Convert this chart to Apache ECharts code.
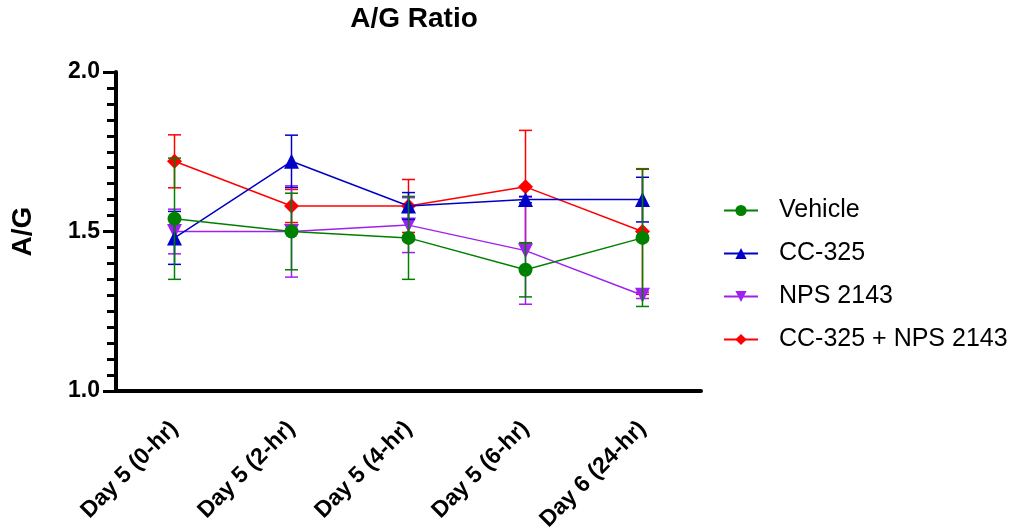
<!DOCTYPE html>
<html>
<head>
<meta charset="utf-8">
<script src="https://cdn.jsdelivr.net/npm/echarts@6/dist/echarts.min.js"></script>
<style>
  html, body { margin: 0; padding: 0; background: #fff; }
  #chart { width: 1020px; height: 531px; }
</style>
</head>
<body>
<div id="chart"></div>
<script>
let $ = a => document.querySelector(a)

// categories and values
const categories = ['Day 5 (0-hr)', 'Day 5 (2-hr)', 'Day 5 (4-hr)', 'Day 5 (6-hr)', 'Day 6 (24-hr)']
const yTicks = [1.0, 1.5, 2.0]

const vehicle = [1.54, 1.50, 1.48, 1.38, 1.48]
const vehicleErr = [0.19, 0.12, 0.13, 0.085, 0.215]
const cc325 = [1.48, 1.72, 1.58, 1.60, 1.60]
const cc325Err = [0.083, 0.082, 0.042, 0.01, 0.07]
const nps = [1.50, 1.50, 1.52, 1.44, 1.30]
const npsErr = [0.07, 0.143, 0.086, 0.168, 0.01]
const combo = [1.72, 1.58, 1.58, 1.64, 1.50]
const comboErr = [0.083, 0.052, 0.083, 0.177, 0.197]

const font = "'Liberation Sans', Arial, sans-serif"

// 每组: 名称, 数值, 误差, 颜色, 标记
const groups = [
    { name: 'CC-325 + NPS 2143', values: combo, err: comboErr, color: '#ff0000', symbol: 'diamond', size: 15 },
    { name: 'NPS 2143', values: nps, err: npsErr, color: '#a020f0', symbol: 'path://M0,0 L10,0 L5,9 Z', size: 15 },
    { name: 'CC-325', values: cc325, err: cc325Err, color: '#0000c8', symbol: 'triangle', size: 15 },
    { name: 'Vehicle', values: vehicle, err: vehicleErr, color: '#008000', symbol: 'circle', size: 14 }
]

// 误差线 (竖线 + 两端横帽)
function errorBars(color) {
    return function (params, api) {
        let i = api.value(0)
        let lo = api.coord([i, api.value(1)])
        let hi = api.coord([i, api.value(2)])
        let w = 6.5
        let style = { stroke: color, lineWidth: 1.5 }
        return {
            type: 'group',
            children: [
                { type: 'line', shape: { x1: lo[0], y1: lo[1], x2: hi[0], y2: hi[1] }, style: style },
                { type: 'line', shape: { x1: lo[0] - w, y1: lo[1], x2: lo[0] + w, y2: lo[1] }, style: style },
                { type: 'line', shape: { x1: hi[0] - w, y1: hi[1], x2: hi[0] + w, y2: hi[1] }, style: style }
            ]
        }
    }
}

let series = []
groups.forEach((g, k) => {
    series.push({
        name: g.name + ' SEM',
        type: 'custom',
        renderItem: errorBars(g.color),
        data: g.values.map((v, i) => [i, v - g.err[i], v + g.err[i]]),
        z: 2 + k * 2,
        silent: true
    })
    series.push({
        name: g.name,
        type: 'line',
        data: g.values,
        symbol: g.symbol,
        symbolSize: g.size,
        itemStyle: { color: g.color },
        lineStyle: { color: g.color, width: 1.5 },
        z: 3 + k * 2
    })
})

echarts.init($('#chart')).setOption({
    animation: false,
    title: {
        text: 'A/G Ratio',
        left: 409,
        top: 0,
        textAlign: 'center',
        textStyle: { fontFamily: font, fontWeight: 'bold', fontSize: 28, color: '#000' }
    },
    legend: {
        orient: 'vertical',
        left: 718,
        top: 193,
        itemWidth: 34,
        itemHeight: 14,
        itemGap: 18,
        data: ['Vehicle', 'CC-325', 'NPS 2143', 'CC-325 + NPS 2143'],
        textStyle: { fontFamily: font, fontSize: 25, color: '#000', padding: [0, 0, 0, 16] }
    },
    grid: { left: 116, right: 319, top: 72, bottom: 140, outerBoundsMode: 'none' },
    xAxis: {
        type: 'category',
        data: categories,
        boundaryGap: true,
        axisLine: { lineStyle: { color: '#000', width: 4 } },
        axisTick: { alignWithLabel: true, length: 12, lineStyle: { color: '#000', width: 3 } },
        axisLabel: {
            rotate: 45,
            margin: 34,
            color: '#000',
            fontFamily: font,
            fontWeight: 'bold',
            fontSize: 23
        }
    },
    yAxis: {
        type: 'value',
        min: yTicks[0],
        max: yTicks[yTicks.length - 1],
        interval: 0.5,
        name: 'A/G',
        nameLocation: 'middle',
        nameGap: 79,
        nameTextStyle: { fontFamily: font, fontWeight: 'bold', fontSize: 28, color: '#000' },
        axisLine: { show: true, lineStyle: { color: '#000', width: 4 } },
        axisTick: { show: true, length: 13, lineStyle: { color: '#000', width: 3 } },
        minorTick: { show: true, splitNumber: 10, length: 9, lineStyle: { color: '#000', width: 3 } },
        splitLine: { show: false },
        axisLabel: {
            margin: 16,
            color: '#000',
            fontFamily: font,
            fontWeight: 'bold',
            fontSize: 23,
            formatter: v => v.toFixed(1)
        }
    },
    series: series
})
</script>
</body>
</html>
